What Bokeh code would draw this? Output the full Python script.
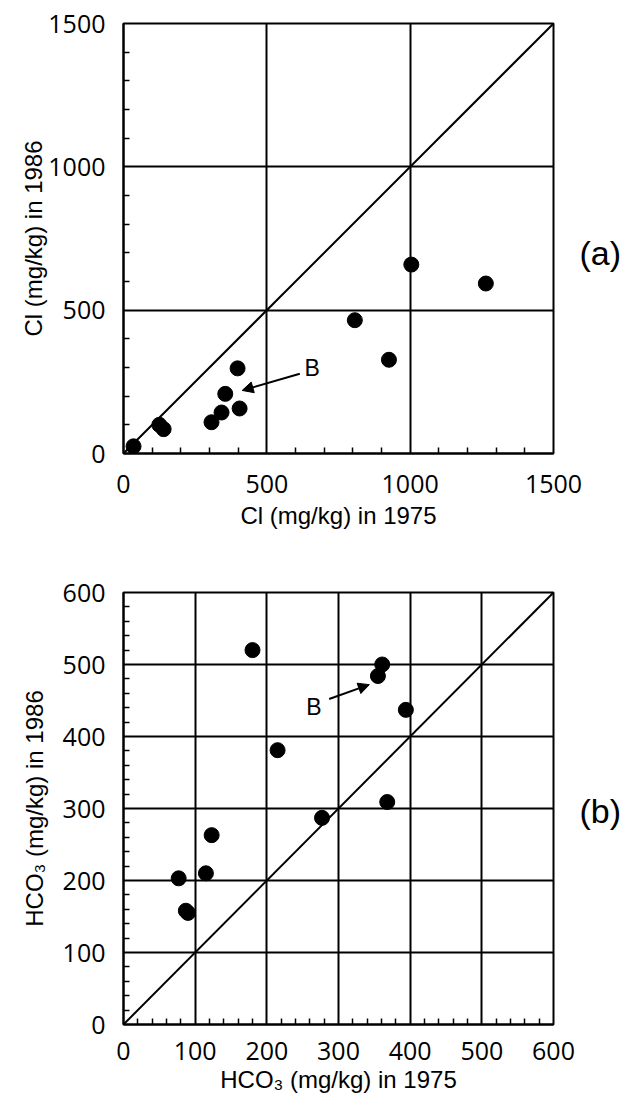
from bokeh.plotting import figure
from bokeh.layouts import column
from bokeh.models import FixedTicker, Label, Arrow, NormalHead, Range1d, LinearAxis
from bokeh.embed import file_html
from bokeh.resources import INLINE

# Chloride (mg/kg) at the same wells, 1975 vs 1986
cl_1975 = [35, 125, 140, 307, 342, 355, 398, 405, 807, 926, 1004, 1264]
cl_1986 = [25, 100, 85, 109, 143, 208, 297, 157, 465, 327, 659, 593]
cl_ticks = [0, 500, 1000, 1500]
cl_minor_step = 100

# Bicarbonate (mg/kg) at the same wells, 1975 vs 1986
hco3_1975 = [77, 87, 90, 115, 123, 180, 215, 277, 355, 361, 368, 394]
hco3_1986 = [203, 158, 155, 210, 263, 520, 381, 287, 484, 500, 309, 437]
hco3_ticks = [0, 100, 200, 300, 400, 500, 600]
hco3_minor_step = 20

TICK_FONT = "Open Sans"
TITLE_FONT = "Liberation Sans"


def make_panel(xs, ys, ticks, minor_step, xlabel, ylabel, height, top, bottom,
               tag, tag_y, b_pos, arrow_from, arrow_to, x_std, title_std, ytitle_std):
    lo, hi = ticks[0], ticks[-1]
    p = figure(width=628, height=height,
               x_range=Range1d(lo, hi), y_range=Range1d(lo, hi),
               output_backend="svg", toolbar_location=None,
               min_border_left=123, min_border_right=75,
               min_border_top=top, min_border_bottom=bottom)
    p.background_fill_color = "white"
    p.border_fill_color = "white"
    p.outline_line_color = "black"
    p.outline_line_width = 2
    p.outline_line_alpha = 1

    minors = [v for v in range(lo, hi + 1, minor_step) if v not in ticks]
    for ax in (p.xaxis[0], p.yaxis[0]):
        ax.ticker = FixedTicker(ticks=ticks, minor_ticks=minors)
        ax.major_tick_in = 0
        ax.major_tick_out = 0
        ax.minor_tick_in = 6
        ax.minor_tick_out = 0
        ax.minor_tick_line_width = 1.5
        ax.minor_tick_line_color = "black"
        ax.axis_line_width = 2
        ax.axis_line_color = "black"
        ax.major_label_text_font = TICK_FONT
        ax.major_label_text_font_size = "25px"
        ax.major_label_text_color = "black"
        ax.axis_label_text_font = TITLE_FONT
        ax.axis_label_text_font_size = "24px"
        ax.axis_label_text_font_style = "normal"
        ax.axis_label_text_color = "black"
    p.xaxis[0].axis_label = xlabel
    p.yaxis[0].axis_label = ylabel
    p.xaxis[0].major_label_standoff = x_std
    p.yaxis[0].major_label_standoff = 18
    p.xaxis[0].axis_label_standoff = title_std
    p.yaxis[0].axis_label_standoff = ytitle_std

    for g in (p.xgrid[0], p.ygrid[0]):
        g.grid_line_color = "black"
        g.grid_line_width = 2
        g.grid_line_alpha = 1

    # 1:1 reference line
    p.line([lo, hi], [lo, hi], line_color="black", line_width=2)

    p.scatter(xs, ys, size=15, fill_color="black", line_color="black")

    p.add_layout(Arrow(end=NormalHead(size=11, fill_color="black", line_color="black"),
                       x_start=arrow_from[0], y_start=arrow_from[1],
                       x_end=arrow_to[0], y_end=arrow_to[1],
                       line_color="black", line_width=2))
    p.add_layout(Label(x=b_pos[0], y=b_pos[1], text="B", text_font=TITLE_FONT,
                       text_font_size="23px", text_color="black",
                       text_baseline="middle", text_align="left"))

    # panel tag drawn as a lone label on a bare right-hand axis
    tag_axis = LinearAxis(ticker=FixedTicker(ticks=[tag_y], minor_ticks=[]),
                          major_label_overrides={tag_y: tag},
                          axis_line_color=None, major_tick_line_color=None,
                          minor_tick_line_color=None,
                          major_label_standoff=20,
                          major_label_text_font=TITLE_FONT,
                          major_label_text_font_size="34px",
                          major_label_text_color="black")
    p.add_layout(tag_axis, "right")
    return p


p1 = make_panel(cl_1975, cl_1986, cl_ticks, cl_minor_step,
                "Cl (mg/kg) in 1975", "Cl (mg/kg) in 1986",
                546, 23, 93, "(a)", 698, (631, 298),
                (615, 278), (414, 220), 21, 6, -2)
p2 = make_panel(hco3_1975, hco3_1986, hco3_ticks, hco3_minor_step,
                "HCO₃ (mg/kg) in 1975", "HCO₃ (mg/kg) in 1986",
                558, 46, 80, "(b)", 297, (255, 441),
                (287, 452), (343, 472), 17, 3, 12)

layout = column(p1, p2, spacing=0)
open("out.html", "w").write(file_html(layout, INLINE))
